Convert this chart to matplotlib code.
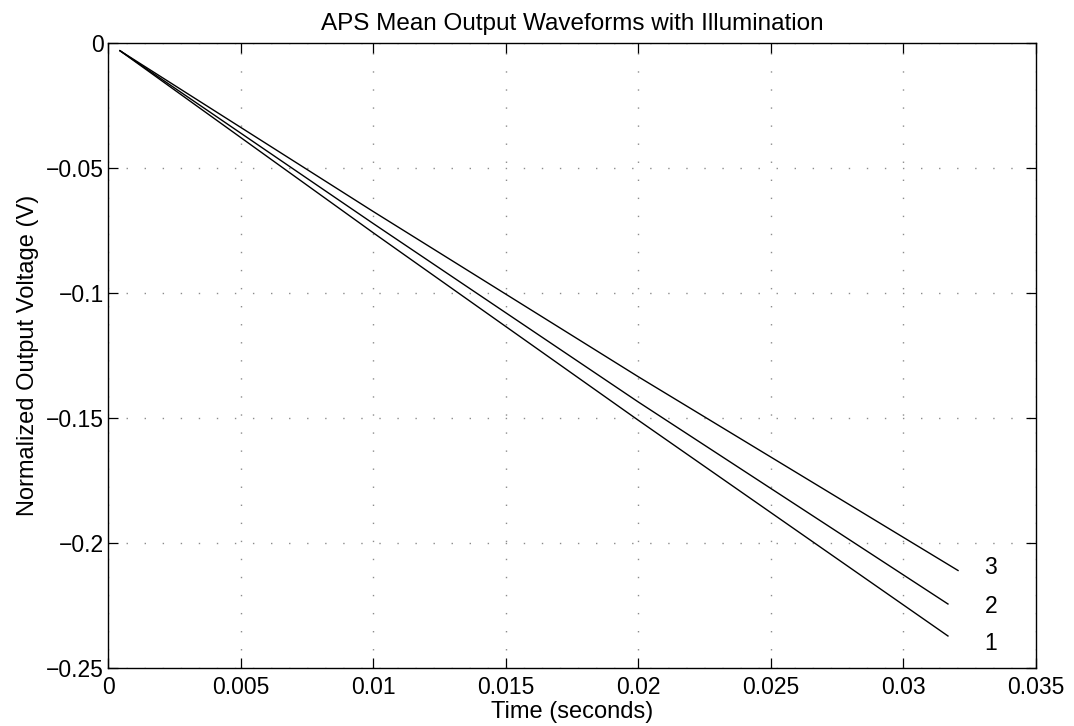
#APS mean output waveforms, normalized, three illumination levels.
import matplotlib
matplotlib.use("Agg")
import matplotlib.pyplot as plt

Time_1 = [0.00045, 0.01, 0.02, 0.03168]
Volt_1 = [-0.0031, -0.0759, -0.1509, -0.2372]
Time_2 = [0.00045, 0.01, 0.02, 0.03168]
Volt_2 = [-0.0031, -0.0722, -0.1436, -0.2244]
Time_3 = [0.00045, 0.01, 0.02, 0.03206]
Volt_3 = [-0.0031, -0.0674, -0.1335, -0.2110]

Labels = ["1", "2", "3"]
Label_x = 0.0333
Label_y = [-0.2404, -0.2256, -0.2100]

X_ticks = [0, 0.005, 0.01, 0.015, 0.02, 0.025, 0.03, 0.035]
X_tick_labels = ["0", "0.005", "0.01", "0.015", "0.02", "0.025", "0.03", "0.035"]
Y_ticks = [-0.25, -0.2, -0.15, -0.1, -0.05, 0]
Y_tick_labels = ["\u22120.25", "\u22120.2", "\u22120.15", "\u22120.1", "\u22120.05", "0"]

plt.rcParams["font.family"] = ["Liberation Sans", "DejaVu Sans"]
plt.rcParams["font.size"] = 16

fig = plt.figure(figsize=(10.74, 7.26), dpi=100)
ax = fig.add_axes([0.1006, 0.0799, 0.8640, 0.8609])

for t, v in [(Time_1, Volt_1), (Time_2, Volt_2), (Time_3, Volt_3)]:
    ax.plot(t, v, color="black", linewidth=1.0)

for lab, y in zip(Labels, Label_y):
    ax.text(Label_x, y, lab, ha="center", va="center", fontsize=16.5)

ax.set_xlim(0, 0.035)
ax.set_ylim(-0.25, 0)
ax.set_xticks(X_ticks)
ax.set_xticklabels(X_tick_labels)
ax.set_yticks(Y_ticks)
ax.set_yticklabels(Y_tick_labels)
ax.tick_params(direction="in", top=True, right=True, length=7, width=0.9,
               labelsize=16.5)
ax.tick_params(axis="x", pad=6)
ax.tick_params(axis="y", pad=3)
ax.grid(True, linestyle=(0, (1, 12)), color="#8c8c8c", linewidth=1.0)
for s in ax.spines.values():
    s.set_linewidth(1.0)

ax.set_title("APS Mean Output Waveforms with Illumination", fontsize=17.5, pad=9)
ax.set_xlabel("Time (seconds)", fontsize=17, labelpad=1)
ax.set_ylabel("Normalized Output Voltage (V)", fontsize=17, labelpad=5)

fig.savefig("out.png", dpi=100)
